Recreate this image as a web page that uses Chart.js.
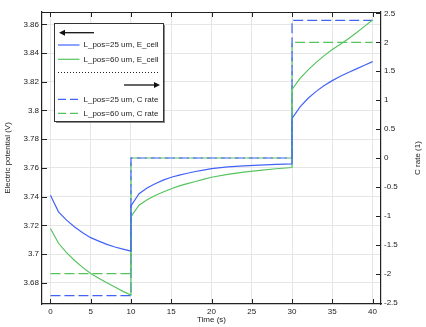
<!DOCTYPE html>
<html><head><meta charset="utf-8">
<script src="https://cdn.jsdelivr.net/npm/chart.js@4/dist/chart.umd.min.js"></script>
<style>html,body{margin:0;padding:0;background:#fff}#wrap{width:426px;height:327px}</style>
</head><body><div id="wrap"><canvas id="c" width="426" height="327"></canvas></div>
<script>
// ---- data ----
const timeE = [0,1,2,3,4,5,6,7,8,9,10, 10,11,12,13,14,15,16,17,18,19,20,22,24,26,28,30, 30,31,32,33,34,35,36,37,38,39,40];
const eCell25 = [3.741,3.7294,3.7236,3.7188,3.7148,3.7114,3.709,3.7067,3.7049,3.7034,3.702,
  3.7335,3.742,3.746,3.749,3.7515,3.7535,3.755,3.7563,3.7575,3.7585,3.7595,3.7607,3.7614,3.762,3.7624,3.7628,
  3.7945,3.8025,3.8085,3.8133,3.8174,3.8208,3.8238,3.8265,3.829,3.8315,3.834];
const eCell60 = [3.7178,3.7075,3.701,3.6955,3.6907,3.6865,3.6832,3.68,3.677,3.674,3.6714,
  3.726,3.734,3.7378,3.7408,3.7432,3.7455,3.7475,3.749,3.7505,3.752,3.7535,3.7555,3.757,3.7583,3.7594,3.7603,
  3.8147,3.8224,3.8283,3.8335,3.8382,3.8425,3.8462,3.85,3.8542,3.8586,3.863];
const timeC = [0,10,10,30,30,40];
const cRate25 = [-2.38,-2.38,0,0,2.38,2.38];
const cRate60 = [-2,-2,0,0,2,2];
const seriesLabels = ['L_pos=25 um, E_cell','L_pos=60 um, E_cell','L_pos=25 um, C rate','L_pos=60 um, C rate'];
const axisTitles = ['Time (s)','Electric potential (V)','C rate (1)'];

const BLUE = '#4163f7', GREEN = '#55c45f';
const FONT = '"Liberation Sans", Arial, sans-serif';
const pts = (xs, ys) => xs.map((t,i)=>({x:t,y:ys[i]}));

const decor = {
  id:'decor',
  afterDraw(chart){
    const {ctx, chartArea:a, scales} = chart;
    const x = scales.x, y = scales.y, y1 = scales.y1;
    ctx.save();
    ctx.strokeStyle = '#222'; ctx.lineWidth = 1;
    ctx.beginPath();
    ctx.moveTo(a.left, a.top+0.5); ctx.lineTo(a.right, a.top+0.5);
    const TL = 5;
    x.ticks.forEach(t=>{const p=Math.round(x.getPixelForValue(t.value))+0.5;
      ctx.moveTo(p,a.bottom); ctx.lineTo(p,a.bottom-TL); ctx.moveTo(p,a.top); ctx.lineTo(p,a.top+TL);});
    y.ticks.forEach(t=>{const p=Math.round(y.getPixelForValue(t.value))+0.5;
      ctx.moveTo(a.left,p); ctx.lineTo(a.left+TL,p);});
    y1.ticks.forEach(t=>{const p=Math.round(y1.getPixelForValue(t.value))+0.5;
      ctx.moveTo(a.right,p); ctx.lineTo(a.right-TL,p);});
    ctx.stroke();
    // right axis title (reads bottom to top)
    ctx.save();
    ctx.translate(418, (a.top+a.bottom)/2);
    ctx.rotate(-Math.PI/2);
    ctx.fillStyle = '#222'; ctx.font = '8px '+FONT;
    ctx.textAlign = 'center'; ctx.textBaseline = 'middle';
    ctx.fillText(axisTitles[2], 0, 0);
    ctx.restore();
    // legend
    const L = {x:54, y:23, w:109, h:98};
    ctx.fillStyle = 'rgba(0,0,0,0.45)'; ctx.fillRect(L.x+2, L.y+2, L.w, L.h);
    ctx.fillStyle = '#fff'; ctx.fillRect(L.x, L.y, L.w, L.h);
    ctx.strokeStyle = '#333'; ctx.lineWidth = 1; ctx.strokeRect(L.x+0.5, L.y+0.5, L.w, L.h);
    ctx.font = '8px '+FONT; ctx.textBaseline = 'middle'; ctx.textAlign = 'left';
    const rows = [
      {kind:'arrowL', dy:9.7},
      {kind:'line', dy:22, color:BLUE, dash:[], text:seriesLabels[0]},
      {kind:'line', dy:36.3, color:GREEN, dash:[], text:seriesLabels[1]},
      {kind:'sep', dy:48.7},
      {kind:'arrowR', dy:62},
      {kind:'line', dy:76.3, color:BLUE, dash:[8,4], text:seriesLabels[2]},
      {kind:'line', dy:90.3, color:GREEN, dash:[8,4], text:seriesLabels[3]},
    ];
    rows.forEach(r=>{
      const yy = L.y + r.dy;
      if (r.kind==='line'){
        ctx.strokeStyle = r.color; ctx.lineWidth = 1.2; ctx.setLineDash(r.dash);
        ctx.beginPath(); ctx.moveTo(L.x+4, yy); ctx.lineTo(L.x+25.5, yy); ctx.stroke();
        ctx.setLineDash([]);
        ctx.fillStyle = '#222'; ctx.fillText(r.text, L.x+29.5, yy);
      } else if (r.kind==='sep'){
        ctx.strokeStyle = '#222'; ctx.lineWidth = 1; ctx.setLineDash([1,2]);
        ctx.beginPath(); ctx.moveTo(L.x+4, Math.round(yy)+0.5); ctx.lineTo(L.x+106, Math.round(yy)+0.5); ctx.stroke();
        ctx.setLineDash([]);
      } else {
        const left = r.kind==='arrowL';
        const x0 = left ? L.x+5 : L.x+70, x1 = left ? L.x+40 : L.x+106;
        ctx.strokeStyle = '#111'; ctx.fillStyle = '#111'; ctx.lineWidth = 1.3;
        ctx.beginPath();
        if (left){ ctx.moveTo(x0+5, yy); ctx.lineTo(x1, yy); }
        else { ctx.moveTo(x0, yy); ctx.lineTo(x1-5, yy); }
        ctx.stroke();
        ctx.beginPath();
        if (left){ ctx.moveTo(x0, yy); ctx.lineTo(x0+6, yy-3); ctx.lineTo(x0+6, yy+3); }
        else { ctx.moveTo(x1, yy); ctx.lineTo(x1-6, yy-3); ctx.lineTo(x1-6, yy+3); }
        ctx.closePath(); ctx.fill();
      }
    });
    ctx.restore();
  }
};

const fmt = v => String(Number(v.toFixed(2)));
const tickFont = {family: FONT, size: 8};

new Chart(document.getElementById('c'), {
  type: 'line',
  data: {
    datasets: [
      {label: seriesLabels[0], data: pts(timeE, eCell25), yAxisID:'y', borderColor: BLUE, borderWidth:1.2},
      {label: seriesLabels[1], data: pts(timeE, eCell60), yAxisID:'y', borderColor: GREEN, borderWidth:1.2},
      {label: seriesLabels[2], data: pts(timeC, cRate25), yAxisID:'y1', borderColor: BLUE, borderWidth:1.2, borderDash:[10,4]},
      {label: seriesLabels[3], data: pts(timeC, cRate60), yAxisID:'y1', borderColor: GREEN, borderWidth:1.2, borderDash:[10,4]},
    ]
  },
  options: {
    responsive: false, animation: false, devicePixelRatio: 1,
    parsing: true,
    elements: {point: {radius: 0}, line: {tension: 0, fill: false}},
    layout: {padding: {top: 12, left: 0, right: 0, bottom: 0}},
    plugins: {legend: {display: false}, tooltip: {enabled: false}},
    scales: {
      x: {
        type: 'linear', min: -1.05, max: 41.05,
        ticks: {stepSize: 5, includeBounds: false, padding: 3, color: '#222', font: tickFont, callback: fmt, maxRotation: 0},
        grid: {color: '#e6e6e6', drawTicks: false},
        border: {color: '#222', width: 1.2},
        title: {display: true, text: axisTitles[0], color: '#222', font: tickFont, padding: {top: 0, bottom: 2}},
        afterFit: s => { s.height = 23; }
      },
      y: {
        type: 'linear', position: 'left', min: 3.6652, max: 3.8686,
        ticks: {stepSize: 0.02, includeBounds: false, padding: 3, color: '#222', font: tickFont, callback: fmt},
        grid: {color: '#e6e6e6', drawTicks: false},
        border: {color: '#222', width: 1.2},
        title: {display: true, text: axisTitles[1], color: '#222', font: tickFont, padding: {top: 3, bottom: 0}},
        afterFit: s => { s.width = 42; }
      },
      y1: {
        type: 'linear', position: 'right', min: -2.525, max: 2.525,
        ticks: {stepSize: 0.5, includeBounds: false, padding: 3, color: '#222', font: tickFont, callback: fmt},
        grid: {display: false, drawTicks: false},
        border: {color: '#222', width: 1.2},
        afterFit: s => { s.width = 45; }
      }
    }
  },
  plugins: [decor]
});
</script></body></html>
